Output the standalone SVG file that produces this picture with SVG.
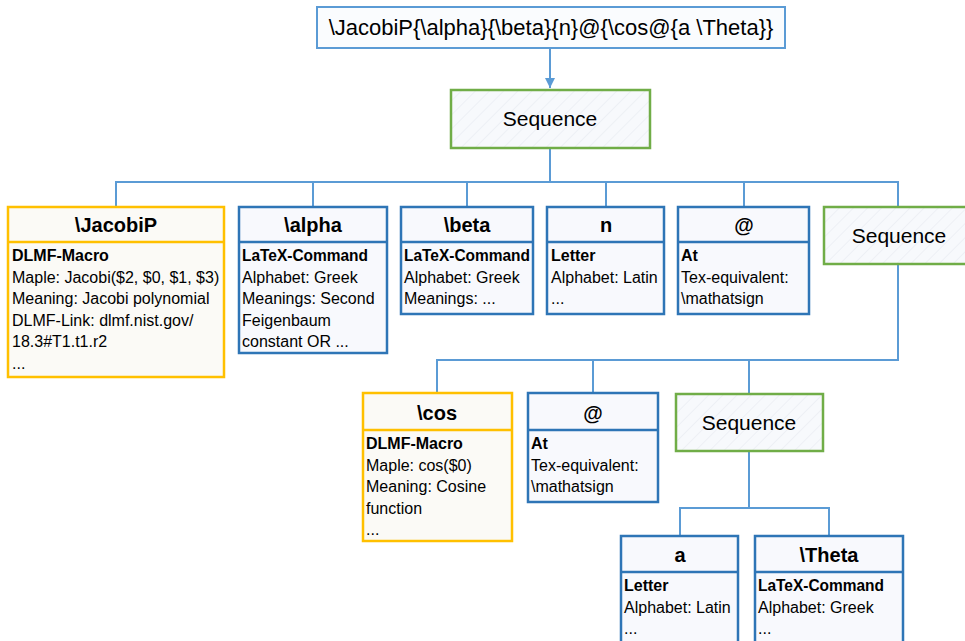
<svg xmlns="http://www.w3.org/2000/svg" width="965" height="641" viewBox="0 0 965 641">
<defs>
<pattern id="hatch" width="10" height="10" patternUnits="userSpaceOnUse" patternTransform="rotate(45)">
<rect width="10" height="10" fill="#F7F9FC"/>
<line x1="0" y1="0" x2="0" y2="10" stroke="#E3E8EF" stroke-width="1"/>
</pattern>
<marker id="arr" viewBox="0 0 10 10" refX="10" refY="5" markerWidth="5" markerHeight="5" orient="auto" markerUnits="strokeWidth">
<path d="M0,0 L10,5 L0,10 z" fill="#5B9BD5"/>
</marker>
</defs>
<style>
text{font-family:"Liberation Sans",Arial,sans-serif;fill:#000}
.hd{font-size:20px;font-weight:bold;text-anchor:middle}
.bd{font-size:16px}
.b{font-weight:bold}
.seq{font-size:21px;text-anchor:middle}
.blue{fill:#F8F9FD;stroke:#2E75B6;stroke-width:2.5}
.yel{fill:#FBFAF6;stroke:#FFC000;stroke-width:2.5}
.dblue{stroke:#2E75B6;stroke-width:2.5}
.dyel{stroke:#FFC000;stroke-width:2.5}
.grn{fill:url(#hatch);stroke:#70AD47;stroke-width:2.5}
.con{fill:none;stroke:#5B9BD5;stroke-width:2}
</style>
<rect width="965" height="641" fill="#FFFFFF"/>

<g id="connectors">
<line class="con" x1="550" y1="48" x2="550" y2="88" marker-end="url(#arr)"/>
<path class="con" d="M550,148 V182 M116,207 V182 H898 V207 M313,182 V207 M467,182 V207 M606,182 V207 M744,182 V207"/>
<path class="con" d="M898,264 V360 H437 V393 M593,360 V393 M749,360 V394"/>
<path class="con" d="M749,451 V508 M680,536 V508 H829 V536"/>
</g>

<g id="root">
<rect x="317" y="7" width="468" height="41" fill="#FAFCFE" stroke="#5B9BD5" stroke-width="2"/>
<text x="551" y="35" style="font-size:22px;text-anchor:middle">\JacobiP{\alpha}{\beta}{n}@{\cos@{a \Theta}}</text>
</g>

<g id="seq1">
<rect class="grn" x="451" y="90" width="199" height="58"/>
<text class="seq" x="550" y="126">Sequence</text>
</g>

<g id="jacobip">
<rect class="yel" x="8" y="207" width="216" height="170"/>
<line class="dyel" x1="8" y1="242" x2="224" y2="242"/>
<text class="hd" x="116" y="232">\JacobiP</text>
<text class="bd" x="12" y="261"><tspan class="b">DLMF-Macro</tspan><tspan x="12" y="282.5">Maple: Jacobi($2, $0, $1, $3)</tspan><tspan x="12" y="304">Meaning: Jacobi polynomial</tspan><tspan x="12" y="325.5">DLMF-Link: dlmf.nist.gov/</tspan><tspan x="12" y="347">18.3#T1.t1.r2</tspan><tspan x="12" y="368.5">...</tspan></text>
</g>

<g id="alpha">
<rect class="blue" x="239" y="207" width="148" height="146"/>
<line class="dblue" x1="239" y1="242" x2="387" y2="242"/>
<text class="hd" x="313" y="232">\alpha</text>
<text class="bd b" x="242" y="261" textLength="126" lengthAdjust="spacingAndGlyphs">LaTeX-Command</text>
<text class="bd" x="242" y="282.5">Alphabet: Greek<tspan x="242" y="304">Meanings: Second</tspan><tspan x="242" y="325.5">Feigenbaum</tspan><tspan x="242" y="347">constant OR ...</tspan></text>
</g>

<g id="beta">
<rect class="blue" x="401" y="207" width="132" height="107"/>
<line class="dblue" x1="401" y1="242" x2="533" y2="242"/>
<text class="hd" x="467" y="232">\beta</text>
<text class="bd b" x="404" y="261" textLength="126" lengthAdjust="spacingAndGlyphs">LaTeX-Command</text>
<text class="bd" x="404" y="282.5">Alphabet: Greek<tspan x="404" y="304">Meanings: ...</tspan></text>
</g>

<g id="n">
<rect class="blue" x="547" y="207" width="117" height="107"/>
<line class="dblue" x1="547" y1="242" x2="664" y2="242"/>
<text class="hd" x="606" y="232">n</text>
<text class="bd" x="551" y="261"><tspan class="b">Letter</tspan><tspan x="551" y="282.5">Alphabet: Latin</tspan><tspan x="551" y="304">...</tspan></text>
</g>

<g id="at1">
<rect class="blue" x="678" y="207" width="131" height="107"/>
<line class="dblue" x1="678" y1="242" x2="809" y2="242"/>
<text class="hd" x="744" y="232">@</text>
<text class="bd" x="681" y="261"><tspan class="b">At</tspan><tspan x="681" y="282.5">Tex-equivalent:</tspan><tspan x="681" y="304">\mathatsign</tspan></text>
</g>

<g id="seq2">
<rect class="grn" x="824" y="207" width="150" height="57"/>
<text class="seq" x="899" y="243">Sequence</text>
</g>

<g id="cos">
<rect class="yel" x="363" y="393" width="149" height="148"/>
<line class="dyel" x1="363" y1="430" x2="512" y2="430"/>
<text class="hd" x="437" y="420">\cos</text>
<text class="bd" x="366" y="449"><tspan class="b">DLMF-Macro</tspan><tspan x="366" y="470.5">Maple: cos($0)</tspan><tspan x="366" y="492">Meaning: Cosine</tspan><tspan x="366" y="513.5">function</tspan><tspan x="366" y="535">...</tspan></text>
</g>

<g id="at2">
<rect class="blue" x="528" y="393" width="130" height="109"/>
<line class="dblue" x1="528" y1="430" x2="658" y2="430"/>
<text class="hd" x="593" y="420">@</text>
<text class="bd" x="531" y="449"><tspan class="b">At</tspan><tspan x="531" y="470.5">Tex-equivalent:</tspan><tspan x="531" y="492">\mathatsign</tspan></text>
</g>

<g id="seq3">
<rect class="grn" x="676" y="394" width="147" height="57"/>
<text class="seq" x="749" y="430">Sequence</text>
</g>

<g id="a">
<rect class="blue" x="621" y="536" width="117" height="130"/>
<line class="dblue" x1="621" y1="572" x2="738" y2="572"/>
<text class="hd" x="680" y="562">a</text>
<text class="bd" x="624" y="591"><tspan class="b">Letter</tspan><tspan x="624" y="612.5">Alphabet: Latin</tspan><tspan x="624" y="634">...</tspan></text>
</g>

<g id="theta">
<rect class="blue" x="755" y="536" width="148" height="130"/>
<line class="dblue" x1="755" y1="572" x2="903" y2="572"/>
<text class="hd" x="829" y="562">\Theta</text>
<text class="bd b" x="758" y="591" textLength="126" lengthAdjust="spacingAndGlyphs">LaTeX-Command</text>
<text class="bd" x="758" y="612.5">Alphabet: Greek<tspan x="758" y="634">...</tspan></text>
</g>
</svg>
